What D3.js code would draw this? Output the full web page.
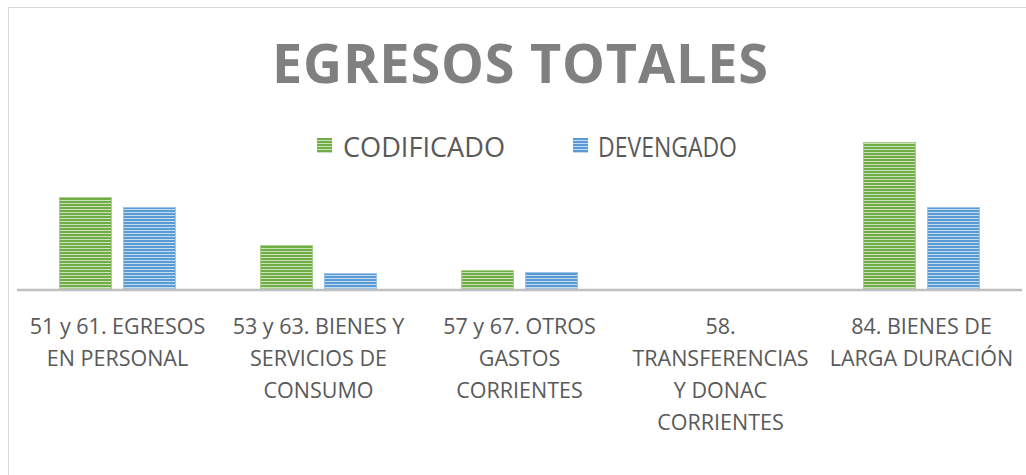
<!DOCTYPE html>
<html>
<head>
<meta charset="utf-8">
<script src="https://cdn.jsdelivr.net/npm/d3@7"></script>
<style>
  body { margin: 0; background: #fff; }
  text { font-family: "Open Sans", sans-serif; }
</style>
</head>
<body>
<div id="chart"></div>
<script>
// data (no value axis, relative units)
var categories = [
  "51 y 61. EGRESOS EN PERSONAL",
  "53 y 63. BIENES Y SERVICIOS DE CONSUMO",
  "57 y 67. OTROS GASTOS CORRIENTES",
  "58. TRANSFERENCIAS Y DONAC CORRIENTES",
  "84. BIENES DE LARGA DURACIÓN"
];
var tickLines = [
  ["51 y 61. EGRESOS", "EN PERSONAL"],
  ["53 y 63. BIENES Y", "SERVICIOS DE", "CONSUMO"],
  ["57 y 67. OTROS", "GASTOS", "CORRIENTES"],
  ["58.", "TRANSFERENCIAS", "Y DONAC", "CORRIENTES"],
  ["84. BIENES DE", "LARGA DURACIÓN"]
];
var seriesNames = ["CODIFICADO", "DEVENGADO"];
var codificado = [92, 44, 19, 0, 147];
var devengado = [82, 16, 17, 0, 82];

var width = 1026, height = 475;
var baseY = 289;

var svg = d3.select("#chart").append("svg")
  .attr("width", width)
  .attr("height", height);

// chart border
svg.append("rect")
  .attr("x", 8.5).attr("y", 7.5)
  .attr("width", 1040).attr("height", 500)
  .attr("fill", "#fff")
  .attr("stroke", "#d9d9d9")
  .attr("stroke-width", 1);

// stripe patterns
var defs = svg.append("defs");
function stripe(id, dark, light) {
  var p = defs.append("pattern")
    .attr("id", id)
    .attr("patternUnits", "userSpaceOnUse")
    .attr("width", 8).attr("height", 3);
  p.append("rect").attr("width", 8).attr("height", 3).attr("fill", dark);
  p.append("rect").attr("y", 2).attr("width", 8).attr("height", 1).attr("fill", light);
}
stripe("stripeGreen", "#70ad47", "#c9e2b8");
stripe("stripeBlue", "#5b9bd5", "#c3dbf0");
var fills = ["url(#stripeGreen)", "url(#stripeBlue)"];
var edgeColors = ["#a8d08d", "#9dc3e6"];

// title
svg.append("text")
  .text("EGRESOS TOTALES")
  .attr("x", 272)
  .attr("y", 83)
  .attr("textLength", 496)
  .attr("lengthAdjust", "spacing")
  .attr("fill", "#808080")
  .attr("font-weight", "bold")
  .attr("font-size", 54);

// legend
var legendPos = [{sq: 317, tx: 343, w: 162}, {sq: 573, tx: 598, w: 139}];
var legend = svg.append("g").selectAll("g")
  .data(seriesNames)
  .enter().append("g");
legend.append("rect")
  .attr("x", function(d, i) { return legendPos[i].sq; })
  .attr("y", 138)
  .attr("width", 15).attr("height", 15)
  .attr("fill", function(d, i) { return fills[i]; });
legend.append("text")
  .text(function(d) { return d; })
  .attr("x", function(d, i) { return legendPos[i].tx; })
  .attr("y", 157)
  .attr("textLength", function(d, i) { return legendPos[i].w; })
  .attr("lengthAdjust", "spacingAndGlyphs")
  .attr("fill", "#595959")
  .attr("font-size", 28);

// scales
var x0 = d3.scaleBand()
  .domain(categories)
  .range([17, 1022])
  .paddingInner(0.418)
  .paddingOuter(0.209);

var x1 = d3.scaleBand()
  .domain(seriesNames)
  .range([0, x0.bandwidth()])
  .paddingInner(0.172)
  .paddingOuter(0);

var y = d3.scaleLinear()
  .domain([0, 160])
  .range([baseY, baseY - 160]);

var rows = categories.map(function(c, i) {
  return {cat: c, values: [codificado[i], devengado[i]]};
});

var groups = svg.append("g").selectAll("g")
  .data(rows)
  .enter().append("g")
  .attr("transform", function(d) { return "translate(" + x0(d.cat) + ",0)"; });

groups.selectAll("rect")
  .data(function(d) {
    return d.values.map(function(v, j) { return {s: seriesNames[j], v: v, j: j}; });
  })
  .enter().append("rect")
  .filter(function(d) { return d.v > 0; })
  .attr("x", function(d) { return x1(d.s) + 0.5; })
  .attr("y", function(d) { return y(d.v) + 0.5; })
  .attr("width", x1.bandwidth() - 1)
  .attr("height", function(d) { return y(0) - y(d.v) - 1; })
  .attr("fill", function(d) { return fills[d.j]; })
  .attr("stroke", function(d) { return edgeColors[d.j]; })
  .attr("stroke-width", 1);

// category axis line
svg.append("line")
  .attr("x1", 17).attr("x2", 1022)
  .attr("y1", baseY + 1).attr("y2", baseY + 1)
  .attr("stroke", "#bfbfbf")
  .attr("stroke-width", 2.5);

// category labels
var labels = svg.append("g").selectAll("text")
  .data(rows)
  .enter().append("text")
  .attr("text-anchor", "middle")
  .attr("fill", "#595959")
  .attr("font-size", 21.5);

labels.selectAll("tspan")
  .data(function(d, i) { return tickLines[i].map(function(t) { return {t: t, cat: d.cat}; }); })
  .enter().append("tspan")
  .attr("x", function(d) { return x0(d.cat) + x0.bandwidth() / 2; })
  .attr("y", function(d, k) { return 334 + k * 32; })
  .text(function(d) { return d.t; });
</script>
</body>
</html>
